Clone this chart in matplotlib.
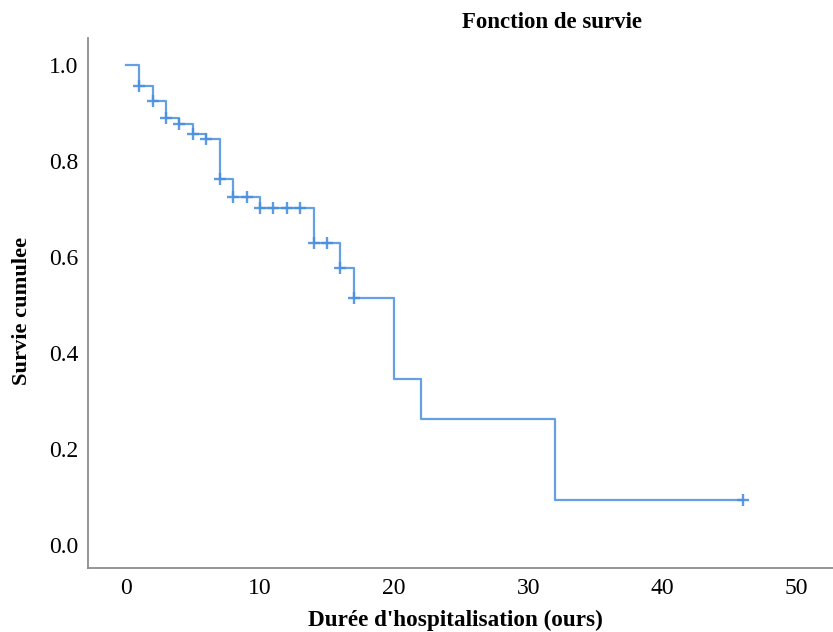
import matplotlib
matplotlib.use("Agg")
import matplotlib.pyplot as plt

# courbe de survie
temps = [0, 1, 2, 3, 4, 5, 6, 7, 8, 10, 14, 16, 17, 20, 22, 32, 46]
survie = [1.0, 0.957, 0.924, 0.889, 0.877, 0.856, 0.845, 0.762, 0.724, 0.701,
          0.628, 0.576, 0.514, 0.346, 0.2625, 0.094, 0.094]

# observations censurees
temps_cens = [1, 2, 3, 4, 5, 6, 7, 8, 9, 10, 11, 12, 13, 14, 15, 16, 17, 46]
survie_cens = [0.957, 0.924, 0.889, 0.877, 0.856, 0.845, 0.762, 0.724, 0.724, 0.701,
               0.701, 0.701, 0.701, 0.628, 0.628, 0.576, 0.514, 0.094]

x_ticks = [0, 10, 20, 30, 40, 50]
y_ticks = [0.0, 0.2, 0.4, 0.6, 0.8, 1.0]

plt.rcParams['font.family'] = ['Liberation Serif', 'DejaVu Serif']

fig = plt.figure(figsize=(8.33, 6.32), dpi=100)
ax = fig.add_axes([88 / 833, 1 - 568 / 632, 1 - 88 / 833, (568 - 38) / 632])

couleur = '#4a8fe0'
ax.step(temps, survie, where='post', color=couleur, lw=1.6, alpha=0.85)
ax.plot(temps_cens, survie_cens, '+', color=couleur, ms=8, mew=1.7, alpha=0.9)

ax.set_xlim(-2.81, 52.7)
ax.set_ylim(-0.048, 1.056)
ax.set_xticks(x_ticks)
ax.set_yticks(y_ticks)
ax.set_yticklabels([f'{v:.1f}' for v in y_ticks])
ax.tick_params(length=0, labelsize=17, pad=7)

for s in ['top', 'right']:
    ax.spines[s].set_visible(False)
for s in ['left', 'bottom']:
    ax.spines[s].set_color('#8c8c8c')
    ax.spines[s].set_linewidth(1.3)

fig.text(552 / 833, 1 - 22 / 632, 'Fonction de survie', ha='center', va='center',
         fontsize=16.5, fontweight='bold')
fig.text(455 / 833, 1 - 620 / 632, "Durée d'hospitalisation (ours)", ha='center',
         va='center', fontsize=16.7, fontweight='bold')
fig.text(22 / 833, 1 - 311 / 632, 'Survie cumulee', ha='center', va='center',
         rotation=90, fontsize=16.2, fontweight='bold')

fig.savefig('out.png', dpi=100)
